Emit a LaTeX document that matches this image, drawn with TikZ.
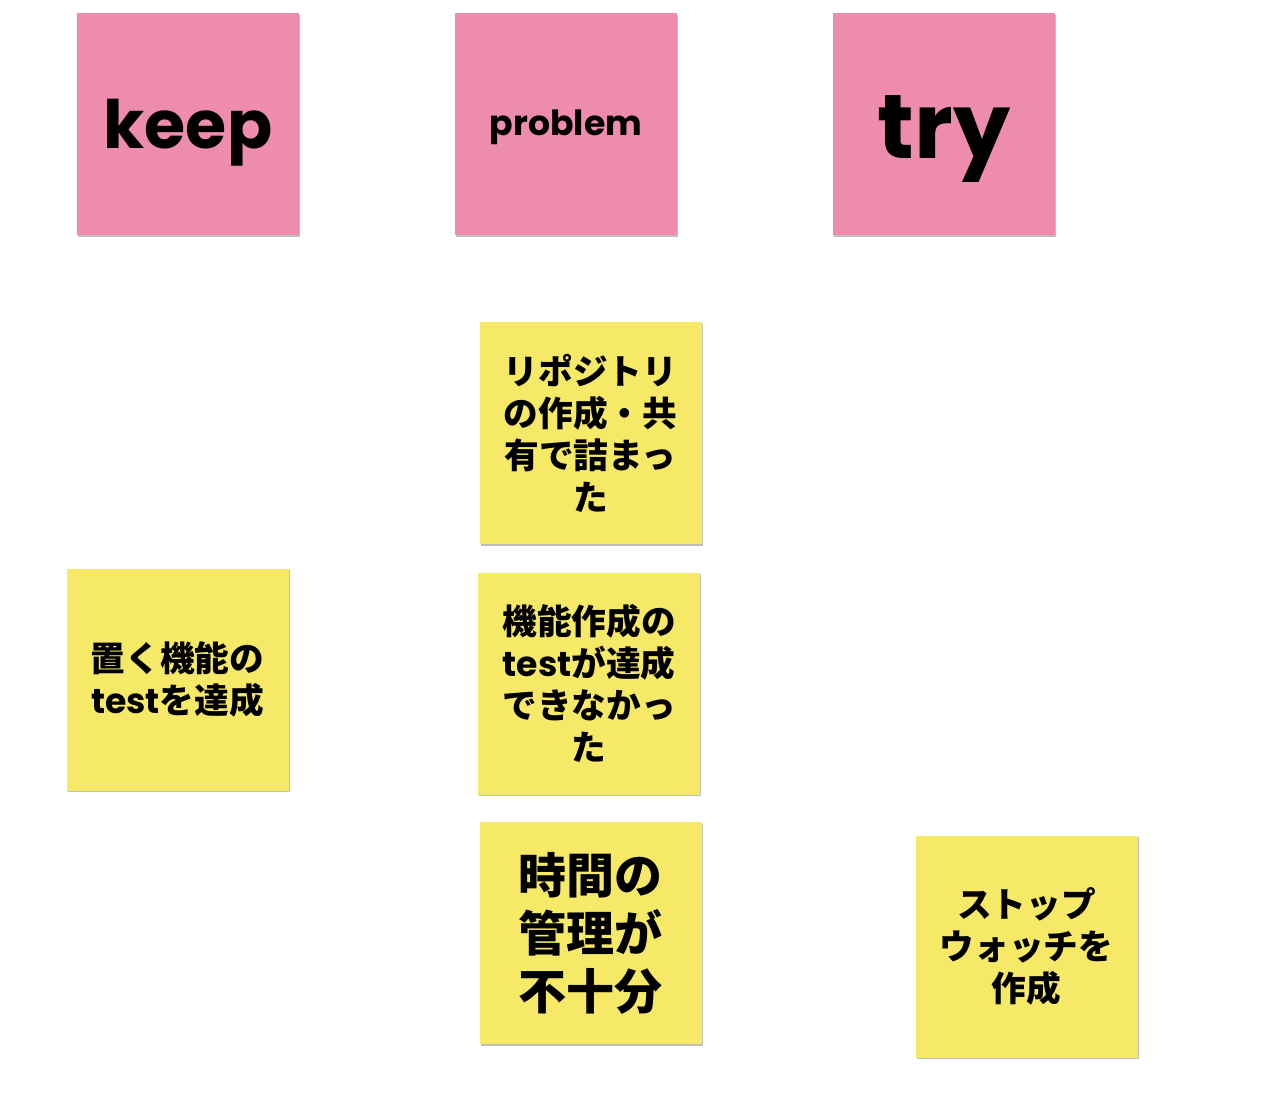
\documentclass[tikz,border=0pt]{standalone}
\usepackage{fontspec}
\newfontfamily\pop{Poppins}
\newfontfamily\cjk{Noto Sans CJK JP}
\usetikzlibrary{positioning,shadows}
\definecolor{notepink}{HTML}{EE8CAB}
\definecolor{noteyellow}{HTML}{F7E968}

\begin{document}
\begin{tikzpicture}[x=0.75pt,y=-0.75pt,node distance=283.5pt,
                    head note/.style={rectangle, fill=notepink, minimum size=166.5pt, inner sep=0pt,
                      drop shadow={shadow xshift=0.8pt, shadow yshift=-1.2pt, fill=black, opacity=0.25},
                      text depth=0pt, font=\pop\bfseries},
                    card note/.style={rectangle, fill=noteyellow, minimum size=166.5pt, inner sep=0pt,
                      drop shadow={shadow xshift=0.8pt, shadow yshift=-1.2pt, fill=black, opacity=0.25},
                      align=center, font=\cjk\bfseries\fontsize{26}{31.5}\selectfont}]
  \useasboundingbox (0,0) rectangle (1267,1107);

  %Headers%
  \node[head note, text height=36pt] (keep) at (188,124) {\fontsize{50}{60}\selectfont keep};
  \node[head note, text height=16.5pt] (problem)[right of=keep] {\fontsize{26}{30}\selectfont problem};
  \node[head note, text height=51pt] (try)[right of=problem] {\fontsize{68}{80}\selectfont try};

  %Cards%
  \node[card note] (keep1) at (177.5,679.5) {置く機能の\\{\pop test}を達成};
  \node[card note] (problem1) at (590.5,433) {リポジトリ\\の作成・共\\有で詰まっ\\た};
  \node[card note] (problem2) at (589,683.5) {機能作成の\\{\pop test}が達成\\できなかっ\\た};
  \node[card note, font=\cjk\bfseries\fontsize{36}{43.5}\selectfont] (problem3) at (590.5,933) {時間の\\管理が\\不十分};
  \node[card note] (try1) at (1026.5,946.5) {ストップ\\ウォッチを\\作成};
\end{tikzpicture}
\end{document}
